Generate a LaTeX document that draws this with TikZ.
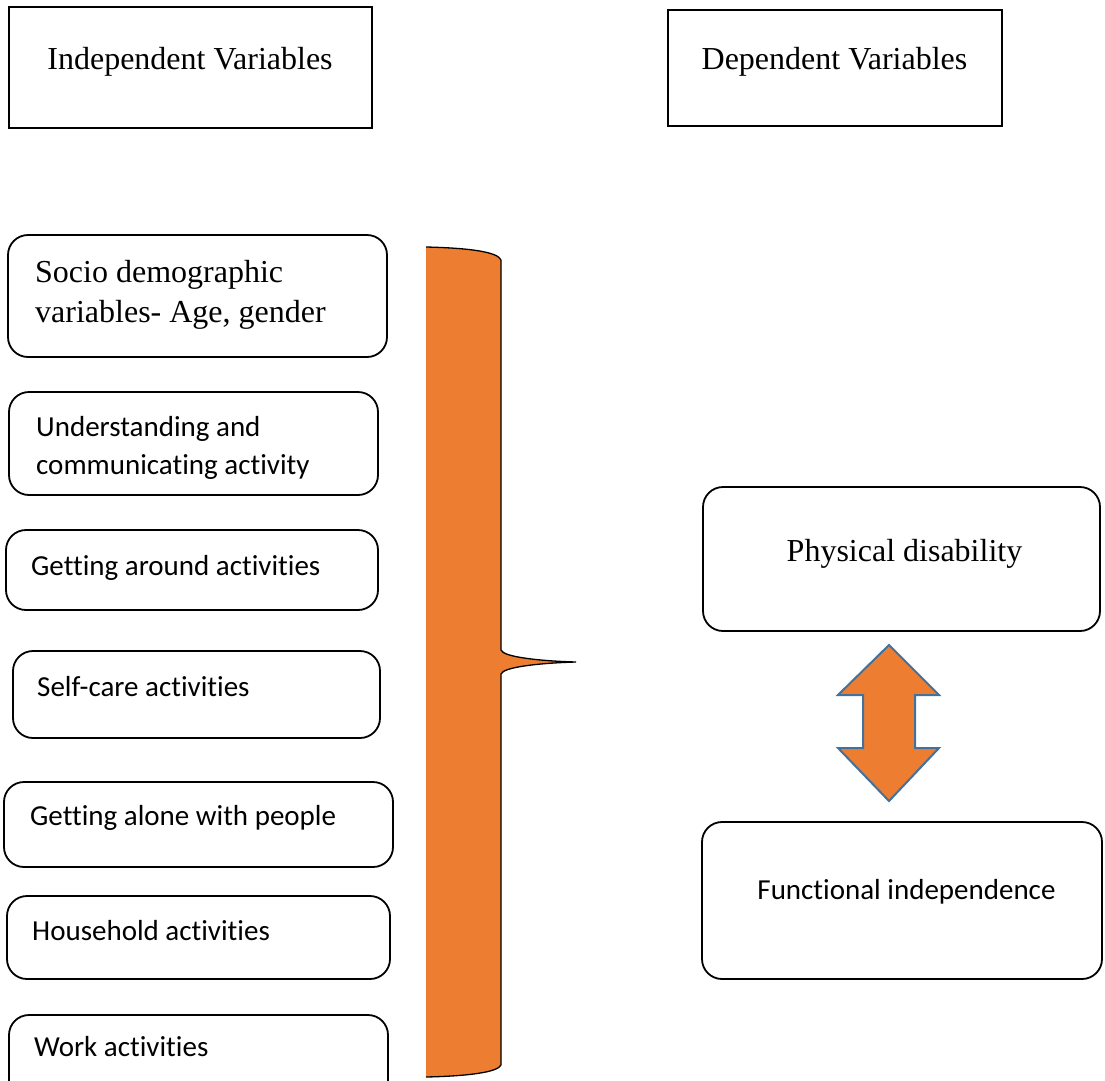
\documentclass[tikz,border=0pt]{standalone}
\usepackage{fontspec}
\setmainfont{Liberation Serif}
\newfontfamily\calfont[Ligatures=NoCommon]{Carlito}
\definecolor{brorange}{HTML}{ED7D31}
\definecolor{arrblue}{HTML}{41719C}
\begin{document}
\begin{tikzpicture}[x=1pt,y=-1pt,
  sqbox/.style={draw=black,line width=1.8pt,rectangle,inner sep=0pt},
  rbox/.style={draw=black,line width=1.8pt,rectangle,rounded corners=20pt,inner sep=0pt},
  tmstext/.style={inner sep=0pt,font=\fontsize{32}{40.7}\selectfont},
  caltext/.style={inner sep=0pt,font=\calfont\fontsize{29}{38.5}\selectfont,align=left}
]
\useasboundingbox (0,0) rectangle (1105,1080);
\fill[white] (0,0) rectangle (1105,1080);

% headings
\node[sqbox,minimum width=363pt,minimum height=121pt] (hind) at (190.5,67.5) {};
\node[tmstext,anchor=base] (tind) at (190,69) {Independent Variables};
\node[sqbox,minimum width=334pt,minimum height=116pt] (hdep) at (835,68) {};
\node[tmstext,anchor=base] (tdep) at (834.5,69) {Dependent Variables};

% left boxes
\node[rbox,minimum width=379pt,minimum height=122pt] (b1) at (197.5,296) {};
\node[tmstext,anchor=base west,align=left] (t1a) at (35,282) {Socio demographic};
\node[tmstext,anchor=base west,align=left] (t1b) at (35,322) {variables- Age, gender};

\node[rbox,minimum width=369pt,minimum height=103pt] (b2) at (193.5,443.5) {};
\node[caltext,anchor=base west] (t2a) at (36,436) {Understanding and};
\node[caltext,anchor=base west] (t2b) at (36,474) {communicating activity};

\node[rbox,minimum width=372pt,minimum height=80pt] (b3) at (192,570) {};
\node[caltext,anchor=base west] (t3) at (31,575) {Getting around activities};

\node[rbox,minimum width=367pt,minimum height=87pt] (b4) at (196.5,694.5) {};
\node[caltext,anchor=base west] (t4) at (37,696) {Self-care activities};

\node[rbox,minimum width=389pt,minimum height=85pt] (b5) at (198.5,824.5) {};
\node[caltext,anchor=base west] (t5) at (30,825) {Getting alone with people};

\node[rbox,minimum width=383pt,minimum height=83pt] (b6) at (198.5,937.5) {};
\node[caltext,anchor=base west] (t6) at (32,940) {Household activities};

\node[rbox,minimum width=379pt,minimum height=90pt] (b7) at (198.5,1060) {};
\node[caltext,anchor=base west] (t7) at (34,1056) {Work activities};

% brace
\fill[brorange] (426,247) .. controls (470,248) and (498,252) .. (501,260)
  -- (501,650) .. controls (503,657) and (540,661) .. (576,662)
  .. controls (540,663) and (503,667) .. (501,674)
  -- (501,1065) .. controls (498,1072) and (470,1076) .. (426,1077) -- cycle;
\draw[black,line width=1.3pt] (426,247) .. controls (470,248) and (498,252) .. (501,260)
  -- (501,650) .. controls (503,657) and (540,661) .. (576,662)
  .. controls (540,663) and (503,667) .. (501,674)
  -- (501,1065) .. controls (498,1072) and (470,1076) .. (426,1077);

% right boxes
\node[rbox,minimum width=397pt,minimum height=144pt] (pd) at (901.5,559) {};
\node[tmstext,anchor=base] (tpd) at (904.5,561) {Physical disability};
\node[rbox,minimum width=400pt,minimum height=157pt] (fi) at (902,900.5) {};
\node[caltext,anchor=base] (tfi) at (906.5,899) {Functional independence};

% double arrow
\draw[fill=brorange,draw=arrblue,line width=2pt,line join=miter]
  (889,645) -- (939,695) -- (915,695) -- (915,748) -- (939,748) -- (889,801)
  -- (838,748) -- (863,748) -- (863,695) -- (838,695) -- cycle;
\end{tikzpicture}
\end{document}
